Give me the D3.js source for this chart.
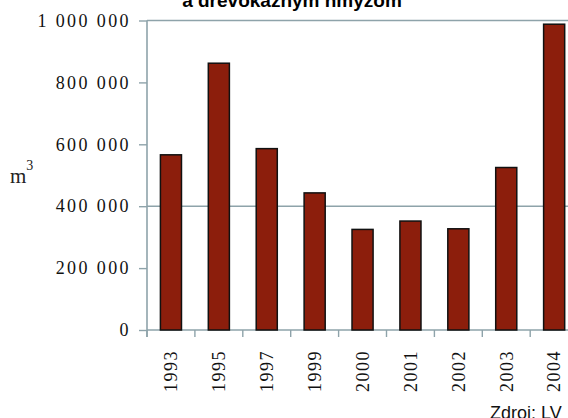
<!DOCTYPE html>
<html>
<head>
<meta charset="utf-8">
<script src="https://cdn.jsdelivr.net/npm/d3@7/dist/d3.min.js"></script>
<style>
  html, body { margin: 0; padding: 0; background: #fff; }
  svg { display: block; }
</style>
</head>
<body>
<svg id="chart" width="568" height="418"></svg>
<script>
// Objem ťažby podľa rokov (m³)
const years = ["1993", "1995", "1997", "1999", "2000", "2001", "2002", "2003", "2004"];
const volumes = [566000, 862000, 586000, 443000, 325000, 352000, 327000, 525000, 988000];
const yTicks = [0, 200000, 400000, 600000, 800000, 1000000];
const gridValues = [400000, 1000000];
const titleLine = "a drevokazným hmyzom";
const unitLabel = "m";
const sourceLabel = "Zdroj: LV";

const svg = d3.select("#chart");
const W = 568, H = 418;
const plot = { left: 147, top: 20.5, bottom: 330, step: 47.9 };

const x = d3.scaleBand()
  .domain(years)
  .range([plot.left, plot.left + plot.step * years.length])
  .paddingInner(0.56)
  .paddingOuter(0.28);

const y = d3.scaleLinear()
  .domain([0, 1000000])
  .range([plot.bottom, plot.top]);

const axisColor = "#8ea3aa";
const serif = "'Liberation Serif', 'DejaVu Serif', serif";
const fmt = v => d3.format(",")(v).replace(/,/g, " ");

// gridlines
svg.append("g")
  .selectAll("line")
  .data(gridValues)
  .join("line")
  .attr("x1", plot.left).attr("x2", W)
  .attr("y1", d => y(d)).attr("y2", d => y(d))
  .attr("stroke", axisColor).attr("stroke-width", 1.6);

// y axis
const yAxis = svg.append("g")
  .attr("transform", `translate(${plot.left},0)`)
  .call(d3.axisLeft(y).tickValues(yTicks).tickFormat(fmt).tickSize(8).tickPadding(8));
yAxis.select(".domain").attr("stroke", axisColor).attr("stroke-width", 1.6)
  .attr("d", `M0,${y(1000000)}V${plot.bottom + 7}`);
yAxis.selectAll(".tick line").attr("stroke", axisColor).attr("stroke-width", 1.4);
yAxis.selectAll(".tick text")
  .attr("fill", "#111")
  .style("font-family", serif)
  .style("font-size", "18px")
  .style("letter-spacing", "2.4px");

// x axis
const xAxis = svg.append("g")
  .attr("transform", `translate(0,${plot.bottom})`)
  .call(d3.axisBottom(x).tickSize(0).tickFormat(d => d));
xAxis.select(".domain").attr("stroke", axisColor).attr("stroke-width", 1.6)
  .attr("d", `M${plot.left},0H${W}`);
xAxis.selectAll(".tick text")
  .attr("transform", "rotate(-90)")
  .attr("x", -20).attr("y", 0).attr("dy", "0.35em")
  .attr("text-anchor", "end")
  .attr("fill", "#111")
  .style("font-family", serif)
  .style("font-size", "18px")
  .style("letter-spacing", "1.5px");

// category separator ticks on the x axis
svg.append("g")
  .selectAll("line")
  .data(years)
  .join("line")
  .attr("x1", d => x(d) - x.step() * 0.28)
  .attr("x2", d => x(d) - x.step() * 0.28)
  .attr("y1", plot.bottom).attr("y2", plot.bottom + 7)
  .attr("stroke", axisColor).attr("stroke-width", 1.4);

// bars
svg.append("g")
  .selectAll("rect")
  .data(years.map((yr, i) => ({ yr, v: volumes[i] })))
  .join("rect")
  .attr("x", d => x(d.yr))
  .attr("width", x.bandwidth())
  .attr("y", d => y(d.v))
  .attr("height", d => y(0) - y(d.v))
  .attr("fill", "#8c1e0c")
  .attr("stroke", "#111")
  .attr("stroke-width", 1.5);

// unit label m³
const unit = svg.append("text")
  .attr("x", 10).attr("y", 183)
  .attr("fill", "#222")
  .style("font-family", serif)
  .style("font-size", "21px");
unit.append("tspan").text(unitLabel);
unit.append("tspan").attr("dy", -13).style("font-size", "14px").text("3");

// title (second line)
svg.append("text")
  .attr("x", 292).attr("y", 7)
  .attr("text-anchor", "middle")
  .attr("fill", "#000")
  .style("font-family", "'Liberation Sans', Arial, sans-serif")
  .style("font-weight", "bold")
  .style("font-size", "19px")
  .text(titleLine);

// source
svg.append("text")
  .attr("x", 490).attr("y", 419)
  .attr("fill", "#111")
  .style("font-family", "'Liberation Sans', Arial, sans-serif")
  .style("font-size", "18px")
  .text(sourceLabel);
</script>
</body>
</html>
